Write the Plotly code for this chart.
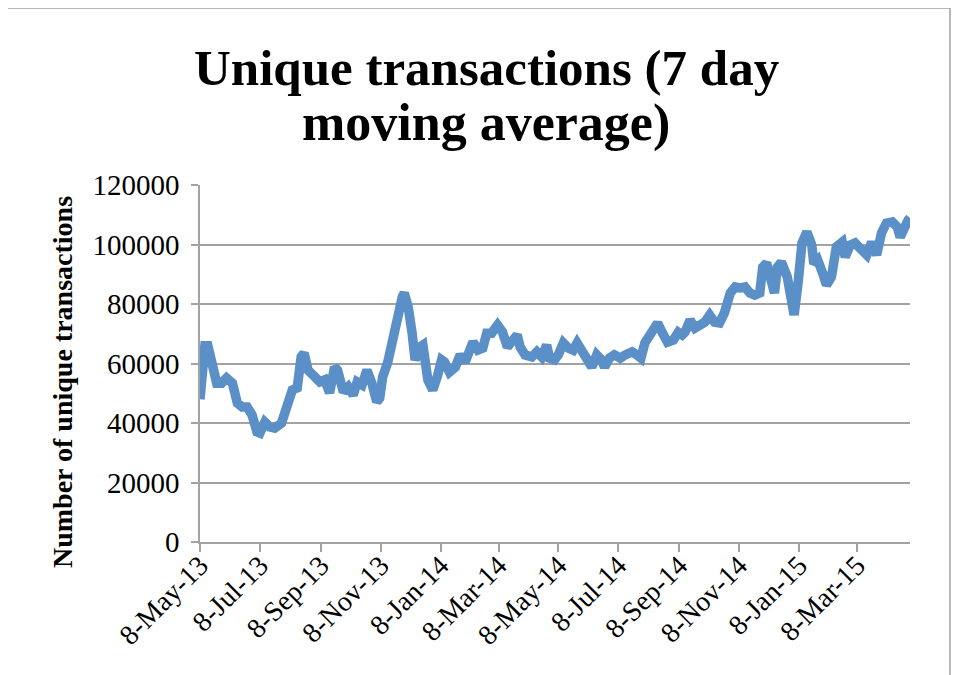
import pandas as pd
import plotly.graph_objects as go

# days after 8 May 2013 and 7-day moving average values
day = [0, 3, 5, 8, 13, 17, 22, 27, 33, 38, 43, 48, 53, 58, 61, 66, 71, 76, 83, 89,
       94, 99, 103, 106, 110, 117, 122, 127, 132, 137, 140, 146, 151, 156, 160, 165,
       170, 175, 180, 183, 186, 191, 195, 199, 202, 206, 208, 212, 216, 219, 224, 227,
       232, 237, 242, 246, 249, 254, 260, 265, 270, 275, 278, 283, 288, 292, 297, 303,
       308, 313, 318, 323, 326, 331, 338, 343, 348, 353, 356, 361, 365, 370, 375, 380,
       384, 389, 394, 399, 404, 409, 412, 417, 422, 428, 433, 440, 445, 449, 453, 458,
       463, 466, 471, 476, 482, 487, 491, 494, 499, 504, 509, 514, 519, 524, 529, 534,
       540, 545, 550, 555, 560, 565, 570, 573, 577, 582, 585, 588, 592, 598, 602, 605,
       609, 613, 618, 623, 625, 629, 634, 638, 643, 648, 654, 657, 662, 667, 672, 679,
       684, 689, 694, 699, 705, 710, 713, 716, 721, 723]
avg_tx = [48000, 62000, 66000, 66000, 56800, 53400, 53400, 55100, 53400, 46700, 45400,
          45400, 42700, 37000, 36600, 40300, 38700, 38300, 40000, 46700, 51100, 51800,
          62200, 63500, 57800, 55500, 53800, 54500, 50100, 58800, 57800, 50400, 52100,
          49400, 53800, 52800, 57800, 53400, 47100, 48400, 55500, 60200, 66900, 74600,
          75600, 82400, 83700, 79000, 70200, 61200, 65500, 66200, 54500, 51100, 56000,
          61200, 60500, 57100, 58800, 62900, 60500, 65500, 67200, 64500, 65200, 70200,
          70200, 72900, 70600, 65500, 67900, 69600, 65500, 62900, 62200, 63900, 62200,
          66200, 61800, 61200, 63000, 66900, 65200, 64500, 66900, 63900, 62200, 58800,
          62900, 61200, 58800, 61800, 62900, 61800, 62900, 63900, 62900, 61800, 66900,
          69600, 72900, 73600, 70200, 67200, 67900, 70500, 69600, 70600, 74600, 71900,
          72900, 73900, 76300, 73900, 73600, 77000, 83700, 85700, 85400, 85700, 83700,
          83000, 83700, 92400, 93800, 84700, 83700, 92400, 94100, 89100, 78000, 76300,
          87000, 100500, 104200, 99800, 93500, 94800, 90400, 86400, 89100, 99200, 100800,
          95800, 99800, 100500, 98800, 96500, 100800, 96500, 103900, 107200, 107600,
          105900, 102500, 105500, 108200, 108900]

start = pd.Timestamp("2013-05-08")
dates = start + pd.to_timedelta(day, unit="D")
y_ticks = [0, 20000, 40000, 60000, 80000, 100000, 120000]

FONT = "Liberation Serif"
GRID = "#a3a3a3"

fig = go.Figure(go.Scatter(
    x=dates, y=avg_tx, mode="lines",
    line=dict(color="#5b8fc7", width=9.5),
    hoverinfo="skip",
))

# page body adds 8px, so margins are 8px smaller on left/top
fig.update_layout(
    width=959, height=675,
    margin=dict(l=192, r=57, t=177, b=141),
    paper_bgcolor="white", plot_bgcolor="white",
    showlegend=False,
    font=dict(family=FONT, color="black"),
)

fig.update_xaxes(
    range=[start, start + pd.Timedelta(days=723)],
    tick0="2013-05-08", dtick="M2", tickformat="%-d-%b-%y",
    tickangle=-45, tickfont=dict(size=28), ticklabelstandoff=-14,
    showgrid=False, zeroline=False,
    showline=True, linecolor=GRID, linewidth=1.5,
    ticks="outside", ticklen=8, tickcolor=GRID, tickwidth=1.5,
)
fig.update_yaxes(
    range=[0, 120000], tickvals=y_ticks, tickformat="d",
    tickfont=dict(size=29), ticklabelstandoff=6,
    showgrid=True, gridcolor=GRID, gridwidth=1.5, zeroline=False,
    showline=True, linecolor=GRID, linewidth=1.5,
    ticks="outside", ticklen=7, tickcolor=GRID, tickwidth=1.5,
)

# chart title (two lines, tight spacing like Excel)
fig.add_annotation(text="<b>Unique transactions (7 day</b>", xref="paper", yref="paper",
                   x=0.403, y=1.327, showarrow=False, xanchor="center", yanchor="middle",
                   font=dict(size=51, family=FONT))
fig.add_annotation(text="<b>moving average)</b>", xref="paper", yref="paper",
                   x=0.403, y=1.1737, showarrow=False, xanchor="center", yanchor="middle",
                   font=dict(size=52, family=FONT))
fig.add_annotation(text="<b>Number of unique transactions</b>", xref="paper", yref="paper",
                   x=-0.1944, y=0.448, textangle=-90, showarrow=False,
                   xanchor="center", yanchor="middle", font=dict(size=28, family=FONT))

# thin frame round the whole chart
fig.add_shape(type="rect", xref="paper", yref="paper",
              x0=-0.2732, x1=1.0563, y0=-0.5, y1=1.4958,
              line=dict(color="#a0a0a0", width=1.5), layer="below")

fig.write_html("out.html")
